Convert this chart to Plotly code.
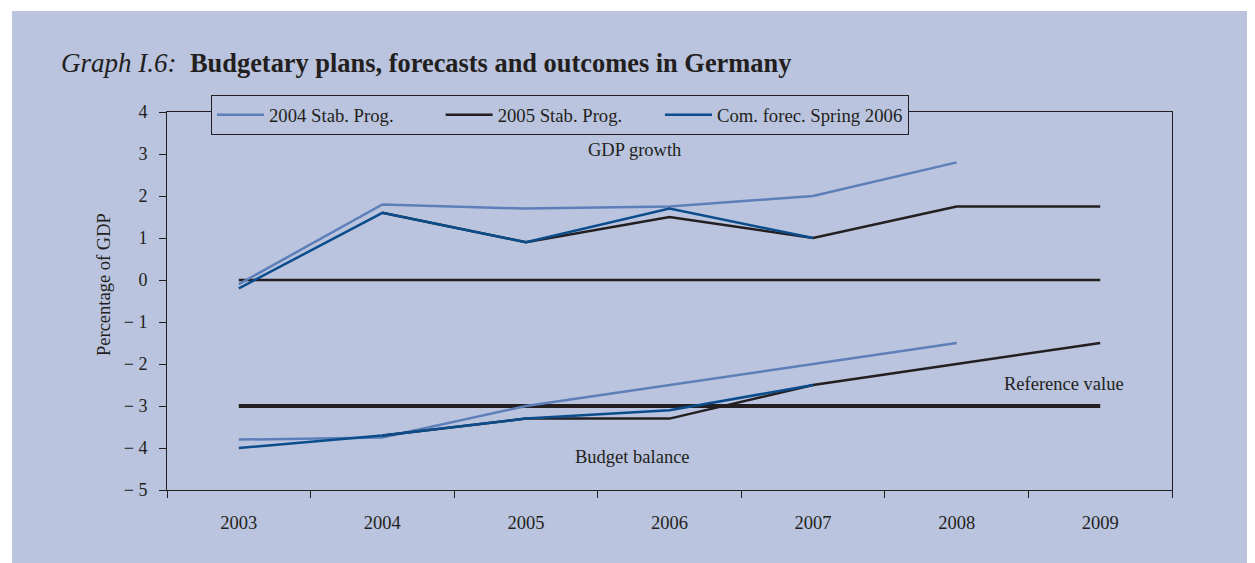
import plotly.graph_objects as go

years = ["2003", "2004", "2005", "2006", "2007", "2008", "2009"]

# GDP growth
gdp_sp2004 = [-0.1, 1.8, 1.7, 1.75, 2.0, 2.8, None]
gdp_sp2005 = [None, 1.6, 0.9, 1.5, 1.0, 1.75, 1.75]
gdp_com06 = [-0.2, 1.6, 0.9, 1.7, 1.0, None, None]

# Budget balance
bb_sp2004 = [-3.8, -3.75, -3.0, -2.5, -2.0, -1.5, None]
bb_sp2005 = [None, -3.7, -3.3, -3.3, -2.5, -2.0, -1.5]
bb_com06 = [-4.0, -3.7, -3.3, -3.1, -2.5, None, None]

zero_line = [0, 0, 0, 0, 0, 0, 0]
reference_value = [-3, -3, -3, -3, -3, -3, -3]

y_ticks = [4, 3, 2, 1, 0, -1, -2, -3, -4, -5]
y_ticktext = ["4", "3", "2", "1", "0", "\u2212 1", "\u2212 2", "\u2212 3", "\u2212 4", "\u2212 5"]

series_names = ["2004 Stab. Prog.", "2005 Stab. Prog.", "Com. forec. Spring 2006"]

LIGHT = "#5d7fb9"
BLACK = "#231f20"
DARK = "#0b4c8c"
PANEL = "#bac4de"
FONT = "Liberation Serif"

NB = "\u00a0"

fig = go.Figure()

# reference lines
fig.add_trace(go.Scatter(x=years, y=zero_line, mode="lines",
                         line=dict(color=BLACK, width=2.5), showlegend=False, hoverinfo="skip"))
fig.add_trace(go.Scatter(x=years, y=reference_value, mode="lines",
                         line=dict(color=BLACK, width=4), showlegend=False, hoverinfo="skip"))

# budget balance
fig.add_trace(go.Scatter(x=years, y=bb_sp2004, mode="lines",
                         line=dict(color=LIGHT, width=2.5), showlegend=False))
fig.add_trace(go.Scatter(x=years, y=bb_sp2005, mode="lines",
                         line=dict(color=BLACK, width=2.5), showlegend=False))
fig.add_trace(go.Scatter(x=years, y=bb_com06, mode="lines",
                         line=dict(color=DARK, width=2.5), showlegend=False))

# GDP growth (legend entries); trailing non-breaking spaces only pad legend spacing
fig.add_trace(go.Scatter(x=years, y=gdp_sp2004, mode="lines", name=series_names[0] + NB * 9,
                         line=dict(color=LIGHT, width=2.5)))
fig.add_trace(go.Scatter(x=years, y=gdp_sp2005, mode="lines", name=series_names[1] + NB * 7,
                         line=dict(color=BLACK, width=2.5)))
fig.add_trace(go.Scatter(x=years, y=gdp_com06, mode="lines", name=series_names[2],
                         line=dict(color=DARK, width=2.5)))

# page offset (browser body margin)
OFF = 8
# plot area in window pixels
PL, PR, PT, PB = 167, 1172, 112, 490
W, H = 1255 - OFF, 563 - OFF
L, T = PL - OFF, PT - OFF
R, B = W - (PR - OFF), H - (PB - OFF)
pw, ph = PR - PL, PB - PT


def px_x(x):
    return (x - PL) / pw


def px_y(y):
    return (PB - y) / ph


fig.add_shape(type="rect", xref="paper", yref="paper",
              x0=px_x(12), x1=px_x(1270), y0=px_y(11), y1=px_y(580),
              fillcolor=PANEL, line=dict(width=0), layer="below")

fig.add_annotation(xref="paper", yref="paper", x=px_x(59), y=px_y(63),
                   xanchor="left", yanchor="middle", showarrow=False,
                   text="<i>Graph I.6:</i>" + NB + " <b><span style='font-size:26.4px'>Budgetary plans, forecasts and outcomes in Germany</span></b>",
                   font=dict(family=FONT, size=27, color=BLACK))

ann_font = dict(family=FONT, size=18.5, color=BLACK)
fig.add_annotation(xref="paper", yref="y", x=px_x(634), y=3.1, showarrow=False,
                   xanchor="center", text="GDP growth", font=ann_font)
fig.add_annotation(xref="paper", yref="y", x=px_x(632), y=-4.21, showarrow=False,
                   xanchor="center", text="Budget balance", font=ann_font)
fig.add_annotation(xref="paper", yref="y", x=px_x(1064), y=-2.48, showarrow=False,
                   xanchor="center", text="Reference value", font=ann_font)
fig.add_annotation(xref="paper", yref="paper", x=px_x(104), y=px_y(285), showarrow=False,
                   xanchor="center", yanchor="middle", textangle=-90,
                   text="Percentage of GDP", font=ann_font)

fig.update_layout(
    width=W, height=H,
    margin=dict(l=L, r=R, t=T, b=B, autoexpand=False),
    paper_bgcolor="white",
    plot_bgcolor=PANEL,
    font=dict(family=FONT, size=18.5, color=BLACK),
    legend=dict(orientation="h", x=px_x(211), y=px_y(95), xanchor="left", yanchor="top",
                bgcolor=PANEL, bordercolor=BLACK, borderwidth=1,
                itemwidth=47,
                font=dict(family=FONT, size=18.7, color=BLACK)),
    xaxis=dict(type="category", range=[-0.5, 6.5], showgrid=False, zeroline=False,
               showline=True, linecolor=BLACK, linewidth=1, mirror=True,
               ticks="outside", tickson="boundaries", ticklen=7, tickcolor=BLACK,
               ticklabelstandoff=16, tickfont=dict(family=FONT, size=18.5, color=BLACK)),
    yaxis=dict(range=[-5, 4], showgrid=False, zeroline=False,
               showline=True, linecolor=BLACK, linewidth=1, mirror=True,
               ticks="outside", ticklen=7, tickcolor=BLACK,
               tickvals=y_ticks, ticktext=y_ticktext, ticklabelstandoff=8,
               tickfont=dict(family=FONT, size=18, color=BLACK)),
)

fig.write_html("out.html")
